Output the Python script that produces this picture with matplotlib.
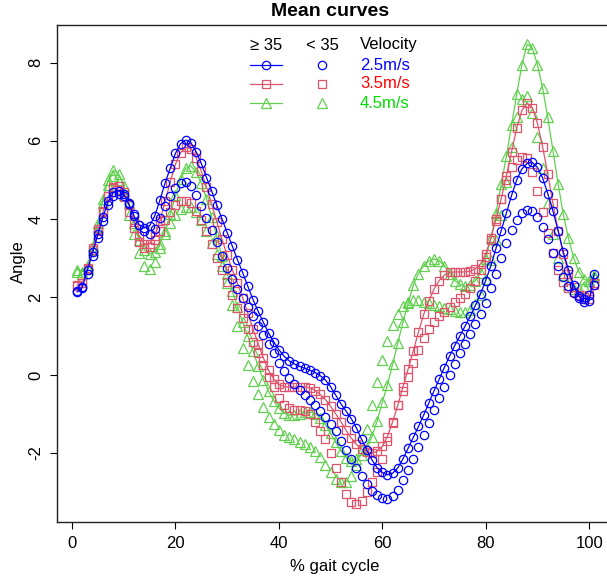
import matplotlib
matplotlib.use('Agg')
import matplotlib.pyplot as plt
import numpy as np

plt.rcParams['font.family'] = ['Liberation Sans', 'DejaVu Sans']
plt.rcParams['axes.unicode_minus'] = False

# % gait cycle positions
gait = np.arange(1, 102)

# 2.5 m/s
blue_ge35 = [2.13, 2.25, 2.7, 3.15, 3.6, 4.05, 4.45, 4.68, 4.72, 4.63,
             4.38, 4.07, 3.85, 3.77, 3.82, 4.08, 4.48, 4.92, 5.3, 5.68,
             5.93, 6.02, 5.95, 5.72, 5.42, 5.06, 4.72, 4.35, 4.0, 3.65,
             3.3, 2.95, 2.62, 2.27, 1.93, 1.63, 1.35, 1.08, 0.85, 0.65,
             0.48, 0.36, 0.28, 0.22, 0.17, 0.12, 0.06, -0.02, -0.13, -0.3,
             -0.52, -0.74, -0.93, -1.12, -1.36, -1.65, -1.92, -2.18, -2.38, -2.5,
             -2.56, -2.52, -2.38, -2.15, -1.88, -1.6, -1.32, -1.03, -0.72, -0.41,
             -0.11, 0.19, 0.48, 0.75, 1.0, 1.25, 1.5, 1.78, 2.08, 2.42,
             2.8, 3.25, 3.7, 4.15, 4.6, 5.0, 5.28, 5.42, 5.45, 5.32,
             5.05, 4.65, 4.2, 3.7, 3.15, 2.7, 2.3, 2.02, 1.87, 1.9, 2.6]
blue_lt35 = [2.15, 2.22, 2.6, 3.05, 3.5, 3.95, 4.35, 4.58, 4.65, 4.58,
             4.4, 4.12, 3.85, 3.68, 3.62, 3.75, 4.02, 4.32, 4.58, 4.8,
             4.93, 4.95, 4.85, 4.62, 4.33, 4.02, 3.72, 3.4, 3.06, 2.75,
             2.45, 2.2, 1.97, 1.73, 1.5, 1.25, 1.02, 0.8, 0.55, 0.3,
             0.1, -0.08, -0.24, -0.38, -0.52, -0.65, -0.78, -0.92, -1.08, -1.25,
             -1.45, -1.7, -1.93, -2.15, -2.38, -2.6, -2.8, -2.97, -3.08, -3.15,
             -3.17, -3.1, -2.95, -2.7, -2.43, -2.15, -1.85, -1.55, -1.22, -0.9,
             -0.6, -0.3, 0.0, 0.28, 0.55, 0.8, 1.05, 1.3, 1.56, 1.85,
             2.22, 2.6, 3.0, 3.38, 3.72, 3.97, 4.15, 4.23, 4.2, 4.05,
             3.8, 3.48, 3.12, 2.8, 2.52, 2.28, 2.1, 1.98, 1.95, 2.05, 2.3]

# 3.5 m/s
red_ge35 = [2.3, 2.35, 2.72, 3.2, 3.7, 4.18, 4.58, 4.83, 4.85, 4.68,
            4.35, 3.92, 3.56, 3.36, 3.36, 3.56, 3.95, 4.45, 4.95, 5.4,
            5.7, 5.83, 5.8, 5.57, 5.22, 4.82, 4.38, 3.93, 3.48, 3.07,
            2.7, 2.35, 1.98, 1.58, 1.18, 0.8, 0.44, 0.12, -0.1, -0.24,
            -0.3, -0.31, -0.31, -0.3, -0.3, -0.33, -0.4, -0.5, -0.63, -0.8,
            -1.0, -1.2, -1.42, -1.62, -1.78, -1.9, -1.97, -2.0, -1.96, -1.83,
            -1.58, -1.2, -0.78, -0.3, 0.15, 0.62, 1.1, 1.55, 1.9, 2.2,
            2.42, 2.56, 2.63, 2.64, 2.64, 2.64, 2.66, 2.72, 2.85, 3.1,
            3.5, 4.0, 4.52, 5.1, 5.72, 6.33, 6.78, 6.97, 6.85, 6.45,
            5.85, 5.15, 4.4, 3.7, 3.1, 2.6, 2.25, 2.05, 1.95, 1.95, 2.3]
red_lt35 = [2.28, 2.35, 2.75, 3.25, 3.75, 4.2, 4.58, 4.78, 4.75, 4.55,
            4.17, 3.76, 3.42, 3.25, 3.28, 3.45, 3.7, 3.96, 4.18, 4.35,
            4.45, 4.47, 4.4, 4.2, 3.98, 3.7, 3.35, 3.0, 2.7, 2.38,
            2.05, 1.72, 1.45, 1.18, 0.85, 0.55, 0.25, -0.05, -0.32, -0.58,
            -0.77, -0.86, -0.9, -0.9, -0.93, -1.0, -1.2, -1.45, -1.65, -2.0,
            -2.38, -2.75, -3.05, -3.25, -3.3, -3.22, -3.0, -2.75, -2.5, -2.15,
            -1.7, -1.22, -0.78, -0.4, -0.05, 0.3, 0.65, 0.95, 1.18, 1.36,
            1.5, 1.62, 1.75, 1.88, 1.98, 2.08, 2.22, 2.42, 2.68, 3.02,
            3.45, 3.95, 4.5, 5.0, 5.32, 5.5, 5.58, 5.55, 5.2, 4.72,
            4.18, 3.65, 3.12, 2.68, 2.38, 2.22, 2.12, 2.05, 2.0, 2.05, 2.35]

# 4.5 m/s
green_ge35 = [2.7, 2.65, 2.82, 3.3, 3.9, 4.5, 5.0, 5.25, 5.15, 4.85,
              4.4, 3.9, 3.45, 3.2, 3.1, 3.15, 3.35, 3.7, 4.12, 4.6,
              5.02, 5.3, 5.35, 5.2, 4.92, 4.52, 4.05, 3.55, 3.05, 2.6,
              2.15, 1.75, 1.35, 1.0, 0.62, 0.22, -0.12, -0.42, -0.66, -0.85,
              -0.98, -1.03, -1.03, -1.0, -0.96, -0.95, -0.99, -1.1, -1.28, -1.5,
              -1.73, -1.95, -2.12, -2.2, -2.15, -2.05, -1.88, -1.58, -1.18, -0.7,
              -0.25, 0.28, 0.82, 1.35, 1.85, 2.3, 2.6, 2.8, 2.92, 2.97,
              2.93, 2.8, 2.6, 2.42, 2.32, 2.27, 2.3, 2.42, 2.62, 2.98,
              3.5, 4.15, 4.9, 5.6, 6.4, 7.2, 7.95, 8.48, 8.38, 7.95,
              7.35, 6.6, 5.75, 4.9, 4.12, 3.5, 3.0, 2.65, 2.45, 2.4, 2.55]
green_lt35 = [2.65, 2.6, 2.72, 3.2, 3.8, 4.4, 4.88, 5.1, 5.0, 4.62,
              4.1, 3.6, 3.12, 2.8, 2.72, 2.9, 3.25, 3.6, 3.9, 4.1,
              4.25, 4.3, 4.3, 4.18, 3.98, 3.7, 3.38, 3.1, 2.8, 2.35,
              1.8, 1.25, 0.7, 0.25, -0.15, -0.5, -0.82, -1.08, -1.25, -1.42,
              -1.54, -1.6, -1.65, -1.72, -1.78, -1.86, -1.95, -2.1, -2.3, -2.5,
              -2.66, -2.75, -2.74, -2.6, -2.32, -1.92, -1.38, -0.78, -0.18, 0.38,
              0.88, 1.28, 1.56, 1.76, 1.88, 1.93, 1.92, 1.88, 1.84, 1.8,
              1.76, 1.72, 1.68, 1.64, 1.62, 1.62, 1.67, 1.82, 2.05, 2.45,
              2.95, 3.45, 4.1, 4.95, 5.85, 6.6, 7.08, 7.15, 6.72, 6.1,
              5.3, 4.4, 3.62, 3.0, 2.55, 2.3, 2.2, 2.2, 2.28, 2.42, 2.5]

velocities = ['2.5m/s', '3.5m/s', '4.5m/s']
mark_colors = ['#0000FF', '#DF536B', '#61D04F']
text_colors = ['#0000FF', '#FF0000', '#00E000']
markers = ['o', 's', '^']
msizes = [6, 5.5, 6.5]
series_ge = [blue_ge35, red_ge35, green_ge35]
series_lt = [blue_lt35, red_lt35, green_lt35]

W, H = 607, 579
fig = plt.figure(figsize=(W / 100, H / 100), dpi=100)
# plot region runs past the right edge of the picture, as in the original
ax = fig.add_axes([56.5 / W, 1 - 522 / H, 558.5 / W, 497 / H])

for i in [2, 1, 0]:
    ax.plot(gait, series_ge[i], color=mark_colors[i], lw=0.9, marker=markers[i],
            ms=msizes[i], mfc='none', mew=0.9)
    ax.plot(gait, series_lt[i], ls='none', color=mark_colors[i], marker=markers[i],
            ms=msizes[i], mfc='none', mew=0.9)

ax.set_xlim(-3, 105)
ax.set_ylim(-3.77, 8.97)
ax.set_xticks([0, 20, 40, 60, 80, 100])
ax.set_yticks([-2, 0, 2, 4, 6, 8])
ax.tick_params(direction='out', length=5, width=0.8, labelsize=12, colors='black')
ax.tick_params(axis='x', pad=5)
ax.tick_params(axis='y', pad=4.5)
for lab in ax.get_yticklabels():
    lab.set_rotation(90)
    lab.set_va('center')
    lab.set_ha('right')
for sp in ax.spines.values():
    sp.set_linewidth(1.0)
    sp.set_color('#222222')

fig.text(330 / W, 1 - 12 / H, 'Mean curves', ha='center', va='center',
         fontsize=14, fontweight='bold')
fig.text(335 / W, 1 - 567 / H, '% gait cycle', ha='center', va='center', fontsize=12)
fig.text(18 / W, 1 - 262 / H, 'Angle', ha='center', va='center', rotation=90, fontsize=12)

# legend, three columns with headers
def fx(px):
    return (px - 56.5) / 558.5

def fy(py):
    return (522 - py) / 497

tr = ax.transAxes
ax.text(fx(266), fy(45), '\u2265 35', transform=tr, ha='center', va='center', fontsize=12)
ax.text(fx(322), fy(45), '< 35', transform=tr, ha='center', va='center', fontsize=12)
ax.text(fx(360), fy(45), 'Velocity', transform=tr, ha='left', va='center', fontsize=12)
rows = [65, 84, 103]
for i in range(3):
    y = fy(rows[i])
    ax.plot([fx(250), fx(282)], [y, y], color=mark_colors[i], lw=0.9,
            transform=tr, clip_on=False)
    ax.plot([fx(266)], [y], marker=markers[i], color=mark_colors[i], ms=msizes[i],
            mfc='none', mew=0.9, transform=tr, clip_on=False)
    ax.plot([fx(322)], [y], marker=markers[i], color=mark_colors[i], ms=msizes[i],
            mfc='none', mew=0.9, transform=tr, clip_on=False)
    ax.text(fx(360), y, velocities[i], transform=tr, ha='left', va='center',
            fontsize=12, color=text_colors[i])

fig.savefig('out.png', dpi=100)
